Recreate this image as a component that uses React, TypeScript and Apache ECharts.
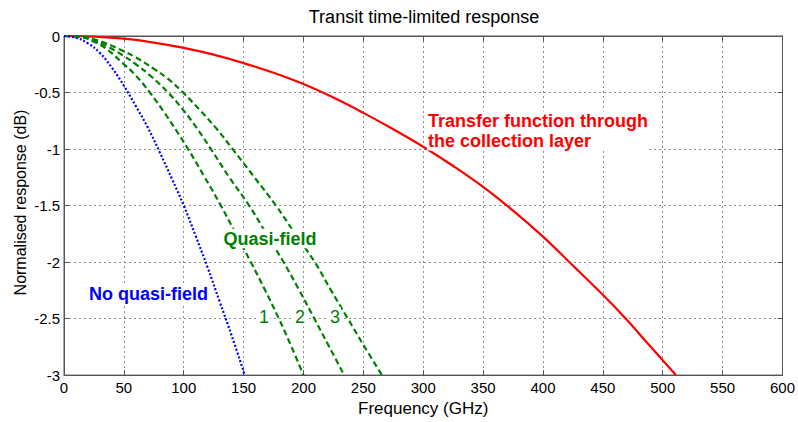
import React, { useEffect, useRef } from 'react';
import * as echarts from 'echarts';

// Frequency axis (GHz) and response axis (dB)
const freqRange = [0, 600];
const freqStep = 50;
const respRange = [-3, 0];
const respStep = 0.5;

// Transfer function through the collection layer: [GHz, dB]
const collectionLayer: number[][] = [
  [0, 0], [25, -0.006], [50, -0.024], [75, -0.058], [100, -0.105], [125, -0.165],
  [150, -0.24], [175, -0.325], [200, -0.425], [225, -0.545], [250, -0.68],
  [275, -0.825], [300, -0.98], [325, -1.15], [350, -1.335], [375, -1.545],
  [400, -1.775], [422, -2], [450, -2.29], [469, -2.5], [490, -2.75], [511, -3],
];

// Without quasi-field
const noQuasiField: number[][] = [
  [0, 0], [10, -0.015], [20, -0.065], [30, -0.15], [40, -0.28], [50, -0.44],
  [60, -0.62], [70, -0.81], [80, -1.03], [90, -1.26], [100, -1.5], [110, -1.77],
  [120, -2.05], [130, -2.35], [140, -2.65], [151, -3],
];

// Quasi-field cases 1, 2, 3
const quasiField1: number[][] = [
  [0, 0], [15, -0.01], [25, -0.05], [35, -0.11], [49, -0.24], [60, -0.35],
  [71.7, -0.5], [84, -0.68], [94, -0.84], [103.6, -1], [117, -1.24], [131, -1.5],
  [144, -1.76], [156, -2], [168, -2.25], [179.4, -2.5], [190, -2.75], [200, -3],
];
const quasiField2: number[][] = [
  [0, 0], [15, -0.008], [25, -0.04], [35, -0.085], [49, -0.17], [60, -0.25],
  [72, -0.35], [86.9, -0.5], [100, -0.66], [110.6, -0.81], [122.7, -1],
  [138, -1.25], [154.6, -1.5], [169, -1.75], [183.3, -2], [196, -2.24],
  [209, -2.5], [222, -2.76], [234, -3],
];
const quasiField3: number[][] = [
  [0, 0], [15, -0.006], [25, -0.03], [35, -0.065], [49, -0.13], [60, -0.19],
  [75, -0.29], [87, -0.38], [99.4, -0.5], [113, -0.65], [127, -0.815],
  [140.8, -1], [159, -1.25], [177, -1.5], [193, -1.75], [209.4, -2], [223, -2.25],
  [237, -2.5], [251, -2.75], [265.5, -3],
];

const FONT = "'Liberation Sans', Arial, Helvetica, sans-serif";
const RED = '#ff0000';
const GREEN = '#008000';
const BLUE = '#0000ff';
const AXIS = '#555555';

const label = (
  text: string,
  x: number,
  y: number,
  fill: string,
  bold: boolean,
  align: string = 'center'
) => ({
  type: 'text',
  x,
  y,
  z: 100,
  style: {
    text,
    fill,
    fontFamily: FONT,
    fontSize: 18,
    fontWeight: bold ? 'bold' : 'normal',
    align,
    verticalAlign: 'middle',
    lineHeight: 19.5,
    backgroundColor: '#ffffff',
    padding: [0, 1],
  },
});

const curve = (name: string, data: number[][], color: string, type: any) => ({
  name,
  type: 'line',
  data,
  smooth: 0.4,
  showSymbol: false,
  lineStyle: { color, width: 2.2, type },
});

export default function App() {
  const ref = useRef<HTMLDivElement>(null);

  useEffect(() => {
    if (!ref.current) return;
    const chart = echarts.init(ref.current, undefined, { renderer: 'svg' });

    const baseX = {
      type: 'value',
      min: freqRange[0],
      max: freqRange[1],
      interval: freqStep,
      axisLine: { show: true, onZero: false, lineStyle: { color: AXIS, width: 1 } },
      axisTick: { show: true, inside: true, length: 5, lineStyle: { color: AXIS } },
    };
    const baseY = {
      type: 'value',
      min: respRange[0],
      max: respRange[1],
      interval: respStep,
      axisLine: { show: true, onZero: false, lineStyle: { color: AXIS, width: 1 } },
      axisTick: { show: true, inside: true, length: 5, lineStyle: { color: AXIS } },
    };
    const gridLine = { show: true, lineStyle: { type: [2, 3], color: '#8c8c8c', width: 1 } };

    chart.setOption({
      animation: false,
      backgroundColor: '#ffffff',
      textStyle: { fontFamily: FONT },
      title: {
        text: 'Transit time-limited response',
        left: 424,
        top: 8,
        padding: 0,
        textAlign: 'center',
        textStyle: { fontFamily: FONT, fontSize: 18, fontWeight: 'normal', color: '#000' },
      },
      grid: {
        left: 64,
        right: 14,
        top: 36,
        bottom: 40,
        show: true,
        borderColor: AXIS,
        borderWidth: 1,
        backgroundColor: '#ffffff',
      },
      xAxis: [
        {
          ...baseX,
          position: 'bottom',
          axisLabel: { color: '#000', fontSize: 15, margin: 5, fontFamily: FONT },
          splitLine: gridLine,
          name: 'Frequency (GHz)',
          nameLocation: 'middle',
          nameGap: 20,
          nameTextStyle: { color: '#000', fontSize: 17, fontFamily: FONT },
        },
        {
          ...baseX,
          position: 'top',
          axisLabel: { show: false },
          splitLine: { show: false },
        },
      ],
      yAxis: [
        {
          ...baseY,
          position: 'left',
          axisLabel: { color: '#000', fontSize: 15, margin: 4, fontFamily: FONT },
          splitLine: gridLine,
        },
        {
          ...baseY,
          position: 'right',
          axisLabel: { show: false },
          splitLine: { show: false },
        },
      ],
      series: [
        curve('Transfer function through the collection layer', collectionLayer, RED, 'solid'),
        curve('Quasi-field 3', quasiField3, GREEN, [6, 3.5]),
        curve('Quasi-field 2', quasiField2, GREEN, [6, 3.5]),
        curve('Quasi-field 1', quasiField1, GREEN, [6, 3.5]),
        curve('No quasi-field', noQuasiField, BLUE, [2, 2]),
      ],
      graphic: [
        {
          type: 'text',
          x: 20.5,
          y: 202.5,
          rotation: Math.PI / 2,
          z: 100,
          style: {
            text: 'Normalised response (dB)',
            fill: '#000',
            fontFamily: FONT,
            fontSize: 16,
            align: 'center',
            verticalAlign: 'middle',
          },
        },
        label('Transfer function through\nthe collection layer', 427, 131, RED, true, 'left'),
        label('Quasi-field', 270, 238.5, GREEN, true),
        label('No quasi-field', 148.5, 294, BLUE, true),
        label('1', 264, 317, GREEN, false),
        label('2', 300, 317, GREEN, false),
        label('3', 335, 317, GREEN, false),
      ],
    });

    return () => chart.dispose();
  }, []);

  return (
    <div
      ref={ref}
      style={{ position: 'fixed', left: 0, top: 0, width: 798, height: 422, background: '#fff' }}
    />
  );
}
